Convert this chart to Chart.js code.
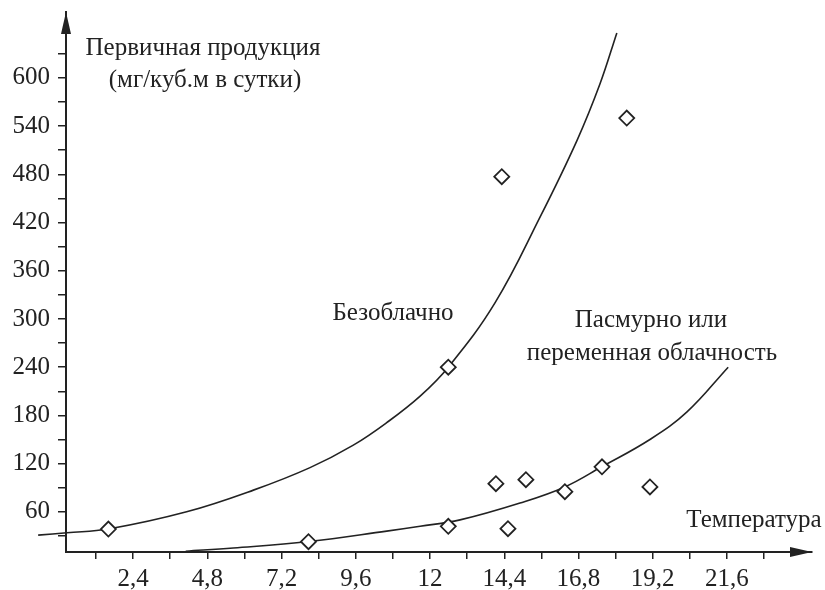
<!DOCTYPE html>
<html lang="ru">
<head>
<meta charset="utf-8">
<title>Первичная продукция и температура</title>
<script src="https://cdn.jsdelivr.net/npm/chart.js@4.4.1/dist/chart.umd.min.js"></script>
<style>
  html, body { margin: 0; padding: 0; background: #fff; }
  canvas { display: block; }
</style>
</head>
<body>
<canvas id="prodChart" width="825" height="590"></canvas>
<script>
// Первичная продукция vs температура

// measured points: temperature, production
const obsTemp = [1.6, 8.07, 12.59, 14.32, 18.36, 12.59, 14.13, 15.1, 14.52, 16.36, 17.56, 19.11];
const obsProd = [38.6, 22.8, 240, 477, 550, 42, 95, 100, 39, 85, 116, 91];

// curve "Безоблачно"
const clearTemp = [-0.67, 0.26, 1.6, 4.13, 6.29, 8.12, 9.52, 10.6, 11.68, 12.59, 14.1, 15.56, 16.75, 17.49, 18.04];
const clearProd = [31, 34, 38.6, 60, 87, 115, 143, 171, 204, 240, 320, 427, 522, 592, 656];

// curve "Пасмурно или переменная облачность"
const cloudyTemp = [4.1, 5.64, 8.07, 10.6, 11.68, 12.97, 14.91, 16.36, 17.55, 19.11, 20.3, 21.64];
const cloudyProd = [11, 15, 23, 36, 42, 50, 71, 91, 116, 150, 184, 240];

// ticks
const xTicks = [1.2, 2.4, 3.6, 4.8, 6, 7.2, 8.4, 9.6, 10.8, 12, 13.2, 14.4, 15.6, 16.8, 18, 19.2, 20.4, 21.6, 22.8];
const xTickLabels = ['', '2,4', '', '4,8', '', '7,2', '', '9,6', '', '12', '', '14,4', '', '16,8', '', '19,2', '', '21,6', ''];
const yTicks = [30, 60, 90, 120, 150, 180, 210, 240, 270, 300, 330, 360, 390, 420, 450, 480, 510, 540, 570, 600, 630];
const yTickLabels = ['', '60', '', '120', '', '180', '', '240', '', '300', '', '360', '', '420', '', '480', '', '540', '', '600', ''];

const ink = '#222';
const serif = "'Liberation Serif', 'DejaVu Serif', serif";

const toPoints = (xs, ys) => xs.map((x, i) => ({ x: x, y: ys[i] }));

// text labels inside the plot
const chartTexts = [
    { text: 'Первичная продукция', x: 203, y: 48 },
    { text: '(мг/куб.м в сутки)', x: 205, y: 80 },
    { text: 'Безоблачно', x: 393, y: 313 },
    { text: 'Пасмурно или', x: 651, y: 320 },
    { text: 'переменная облачность', x: 652, y: 353 },
    { text: 'Температура', x: 754, y: 520 }
];

const decorPlugin = {
    id: 'decor',
    beforeDraw(chart) {
        const ctx = chart.ctx;
        ctx.save();
        ctx.fillStyle = '#fff';
        ctx.fillRect(0, 0, chart.width, chart.height);
        ctx.restore();
    },
    afterDraw(chart) {
        const ctx = chart.ctx;
        const a = chart.chartArea;
        ctx.save();
        ctx.fillStyle = ink;
        // y arrow
        ctx.beginPath();
        ctx.moveTo(a.left, a.top);
        ctx.lineTo(a.left - 5, a.top + 22);
        ctx.lineTo(a.left + 5, a.top + 22);
        ctx.closePath();
        ctx.fill();
        // x arrow
        ctx.beginPath();
        ctx.moveTo(a.right, a.bottom);
        ctx.lineTo(a.right - 22, a.bottom - 5);
        ctx.lineTo(a.right - 22, a.bottom + 5);
        ctx.closePath();
        ctx.fill();

        ctx.font = '25px ' + serif;
        ctx.textAlign = 'center';
        ctx.textBaseline = 'middle';
        chartTexts.forEach(t => ctx.fillText(t.text, t.x, t.y));
        ctx.restore();
    }
};

const ctx = document.getElementById('prodChart').getContext('2d');

new Chart(ctx, {
    type: 'scatter',
    data: {
        datasets: [
            {
                label: 'Наблюдения',
                data: toPoints(obsTemp, obsProd),
                pointStyle: 'rectRot',
                pointRadius: 7.5,
                backgroundColor: '#fff',
                borderColor: ink,
                borderWidth: 1.8,
                order: 0
            },
            {
                label: 'Безоблачно',
                data: toPoints(clearTemp, clearProd),
                showLine: true,
                pointRadius: 0,
                borderColor: ink,
                borderWidth: 1.6,
                tension: 0.4,
                clip: false,
                order: 1
            },
            {
                label: 'Пасмурно или переменная облачность',
                data: toPoints(cloudyTemp, cloudyProd),
                showLine: true,
                pointRadius: 0,
                borderColor: ink,
                borderWidth: 1.6,
                tension: 0.4,
                clip: false,
                order: 1
            }
        ]
    },
    options: {
        responsive: false,
        animation: false,
        events: [],
        layout: { padding: { left: 0, top: 12, right: 13, bottom: 0 } },
        plugins: {
            legend: { display: false },
            tooltip: { enabled: false }
        },
        scales: {
            x: {
                type: 'linear',
                min: 0.23,
                max: 24.35,
                afterBuildTicks: (scale) => { scale.ticks = xTicks.map(v => ({ value: v })); },
                afterFit: (scale) => {
                    scale.height = 38;
                    scale.paddingLeft = 0;
                    scale.paddingRight = 0;
                },
                border: { display: true, color: ink, width: 2 },
                grid: { drawOnChartArea: false, drawTicks: true, tickLength: 7, color: ink, lineWidth: 1.5 },
                ticks: {
                    autoSkip: false,
                    maxRotation: 0,
                    padding: 5,
                    color: ink,
                    font: { family: serif, size: 25 },
                    callback: (value, index) => xTickLabels[index]
                }
            },
            y: {
                type: 'linear',
                min: 10,
                max: 682,
                afterBuildTicks: (scale) => { scale.ticks = yTicks.map(v => ({ value: v })); },
                afterFit: (scale) => {
                    scale.width = 66;
                    scale.paddingTop = 0;
                    scale.paddingBottom = 0;
                },
                border: { display: true, color: ink, width: 2 },
                grid: { drawOnChartArea: false, drawTicks: true, tickLength: 8, color: ink, lineWidth: 1.5 },
                ticks: {
                    autoSkip: false,
                    padding: 8,
                    color: ink,
                    font: { family: serif, size: 25 },
                    callback: (value, index) => yTickLabels[index]
                }
            }
        }
    },
    plugins: [decorPlugin]
});
</script>
</body>
</html>
